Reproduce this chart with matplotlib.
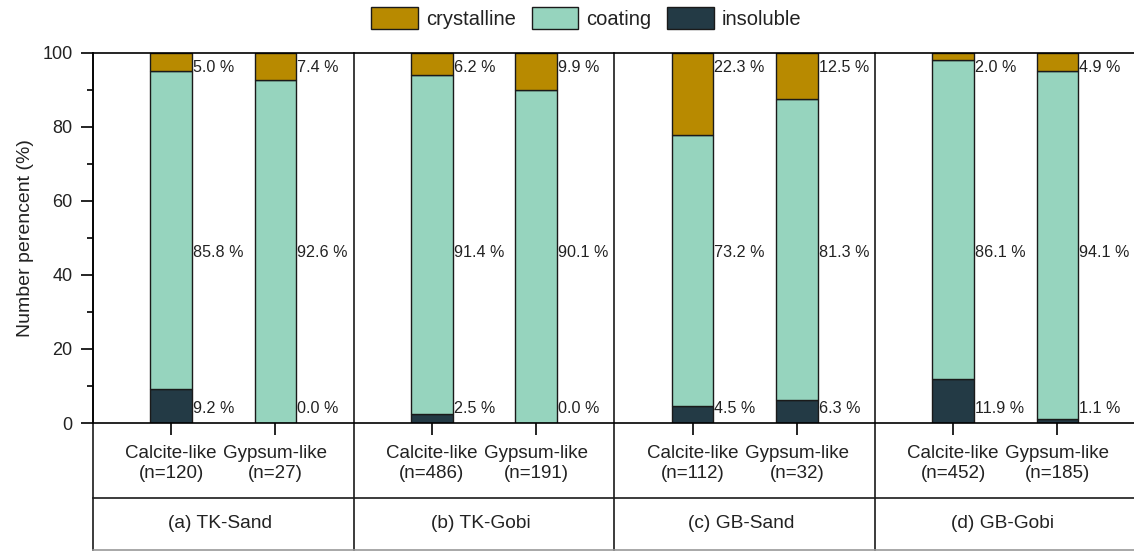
"""Stacked composition bars for calcite-like and gypsum-like particles per site."""

import matplotlib

matplotlib.use("Agg")
import matplotlib.pyplot as plt
import numpy as np

plt.rcParams["font.family"] = ["Liberation Sans", "DejaVu Sans"]

groups = ["(a) TK-Sand", "(b) TK-Gobi", "(c) GB-Sand", "(d) GB-Gobi"]
bar_labels = [
    "Calcite-like\n(n=120)", "Gypsum-like\n(n=27)",
    "Calcite-like\n(n=486)", "Gypsum-like\n(n=191)",
    "Calcite-like\n(n=112)", "Gypsum-like\n(n=32)",
    "Calcite-like\n(n=452)", "Gypsum-like\n(n=185)",
]
insoluble = [9.2, 0.0, 2.5, 0.0, 4.5, 6.3, 11.9, 1.1]
coating = [85.8, 92.6, 91.4, 90.1, 73.2, 81.3, 86.1, 94.1]
crystalline = [5.0, 7.4, 6.2, 9.9, 22.3, 12.5, 2.0, 4.9]

colors = {"crystalline": "#b88a00", "coating": "#96d4be", "insoluble": "#233a45"}
text_color = "#222222"

figure = plt.figure(figsize=(11.34, 5.51), dpi=100)
axis = figure.add_axes([0.082, 0.2323, 0.9195, 0.6717])

group_width = 2.5
x = np.array([g * group_width + off for g in range(len(groups)) for off in (0.75, 1.75)])
width = 0.4
edge = dict(edgecolor="#1a1a1a", linewidth=1.0)

insoluble = np.array(insoluble)
coating = np.array(coating)
crystalline = np.array(crystalline)

axis.bar(x, insoluble, width, color=colors["insoluble"], label="insoluble", **edge)
axis.bar(x, coating, width, bottom=insoluble, color=colors["coating"], label="coating", **edge)
axis.bar(x, crystalline, width, bottom=insoluble + coating,
         color=colors["crystalline"], label="crystalline", **edge)

for xi, ins, coa, cry in zip(x, insoluble, coating, crystalline):
    tx = xi + width / 2 + 0.01
    axis.text(tx, 96, f"{cry:.1f} %", ha="left", va="center", fontsize=11.6, color=text_color)
    axis.text(tx, 46, f"{coa:.1f} %", ha="left", va="center", fontsize=11.6, color=text_color)
    axis.text(tx, 4, f"{ins:.1f} %", ha="left", va="center", fontsize=11.6, color=text_color)

axis.set_xlim(0, group_width * len(groups))
axis.set_ylim(0, 100)
axis.set_yticks([0, 20, 40, 60, 80, 100])
axis.set_yticks([10, 30, 50, 70, 90], minor=True)
axis.tick_params(axis="y", direction="out", length=8.6, width=1.2, labelsize=13,
                 pad=6, labelcolor=text_color)
axis.tick_params(axis="y", which="minor", direction="out", length=4.5, width=1.2)
axis.set_xticks(x, bar_labels)
axis.tick_params(axis="x", direction="out", length=8.6, width=1.2, labelsize=13.5,
                 pad=7.5, labelcolor=text_color)
for label in axis.get_xticklabels():
    label.set_linespacing(1.22)
axis.set_ylabel("Number perencent (%)", fontsize=14, labelpad=6, color=text_color)
for side in ("top", "bottom", "left"):
    axis.spines[side].set_linewidth(1.2)
axis.spines["right"].set_visible(False)

# category table below the axis
trans = axis.get_xaxis_transform()
table_mid = -0.2027
table_bottom = -0.343
for bx in [0, 2.5, 5, 7.5, 10]:
    axis.plot([bx, bx], [1, table_bottom], transform=trans, color="#1a1a1a",
              linewidth=1.2, clip_on=False)
axis.plot([0, 10], [table_mid, table_mid], transform=trans, color="#1a1a1a",
          linewidth=1.2, clip_on=False)
axis.plot([0, 10], [table_bottom, table_bottom], transform=trans, color="#999999",
          linewidth=1.2, clip_on=False)
for g, name in enumerate(groups):
    axis.text(g * group_width + group_width / 2 - 0.03, -0.272, name, transform=trans,
              ha="center", va="center", fontsize=13.8, color=text_color)

handles, labels = axis.get_legend_handles_labels()
order = [2, 1, 0]
figure.legend([handles[i] for i in order], [labels[i] for i in order],
              loc="center", bbox_to_anchor=(0.517, 0.967), ncol=3, frameon=False,
              fontsize=14.5, handlelength=2.3, handleheight=1.3, handletextpad=0.4,
              columnspacing=0.8, labelcolor=text_color)

figure.savefig("out.png", dpi=100)
plt.close(figure)
